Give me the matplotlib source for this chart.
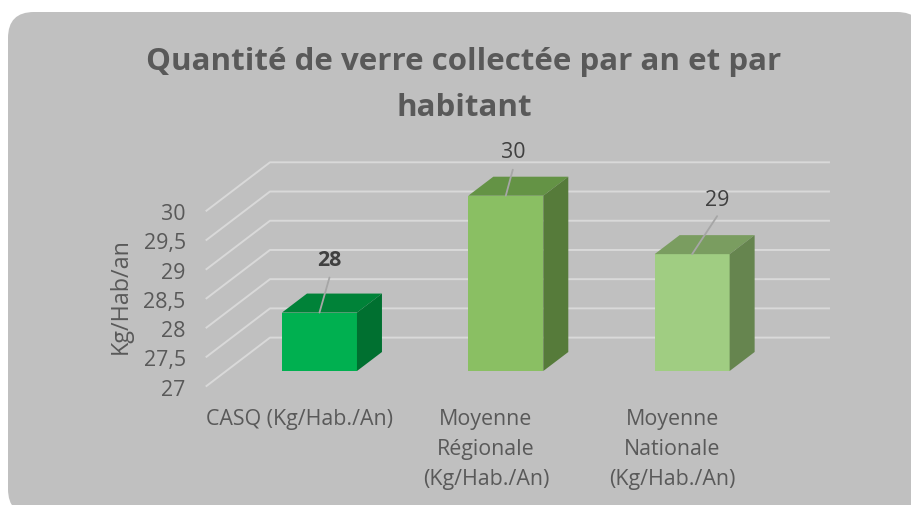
import matplotlib
matplotlib.use('Agg')
import matplotlib.pyplot as plt
from matplotlib.patches import FancyBboxPatch, Polygon
from matplotlib.transforms import ScaledTranslation

plt.rcParams['font.family'] = ['Open Sans', 'DejaVu Sans']

# data
categories = ['CASQ (Kg/Hab./An)', 'Moyenne\nRégionale\n(Kg/Hab./An)', 'Moyenne\nNationale\n(Kg/Hab./An)']
values = [28, 30, 29]
y_ticks = [27, 27.5, 28, 28.5, 29, 29.5, 30]
y_tick_labels = ['27', '27,5', '28', '28,5', '29', '29,5', '30']
title = 'Quantité de verre collectée par an et par\nhabitant'

front_cols = ['#00b050', '#8abf63', '#a0cd82']
top_cols = ['#008238', '#649345', '#7a9d60']
side_cols = ['#007030', '#567b3a', '#66854f']

# pixel-based look of the fake 3d box
W, H = 912, 505
ax_l, ax_r, ax_b, ax_t = 206.5, 765.5, 386.0, 210.7
px_x = (ax_r - ax_l) / 3.0       # pixels per category
px_y = (ax_b - ax_t) / 3.0       # pixels per unit
wall_dx, wall_dy = 63.5 / px_x, 48.4 / px_y
shift_x, shift_y = 19.8 / px_x, 15.0 / px_y
depth_x, depth_y = 25.0 / px_x, 19.0 / px_y
bar_w = 75.0 / px_x

fig = plt.figure(figsize=(W / 100, H / 100), dpi=100, facecolor='white')

# rounded grey card
bg = fig.add_axes([0, 0, 1, 1])
bg.set_xlim(0, W)
bg.set_ylim(H, 0)
bg.axis('off')
bg.add_patch(FancyBboxPatch((8, 12), 915, 503, boxstyle='round,pad=0,rounding_size=26',
                            fc='#c0c0c0', ec='none'))

ax = fig.add_axes([ax_l / W, (H - ax_b) / H, (ax_r - ax_l) / W, (ax_b - ax_t) / H])
ax.patch.set_alpha(0)
ax.set_xlim(-0.5, 2.5)
ax.set_ylim(27, 30)
for s in ax.spines.values():
    s.set_visible(False)

# gridlines on floor/wall
for t in y_ticks:
    ax.plot([-0.5, -0.5 + wall_dx, 2.5 + wall_dx], [t, t + wall_dy, t + wall_dy],
            color='#d9d9d9', lw=1.4, clip_on=False, zorder=1)

# bars
for i in range(3):
    x0 = i - bar_w / 2 + shift_x
    x1 = i + bar_w / 2 + shift_x
    y0 = 27 + shift_y
    y1 = values[i] + shift_y
    ax.bar(i + shift_x, values[i] - 27, bottom=y0, width=bar_w, color=front_cols[i],
           clip_on=False, zorder=3)
    ax.add_patch(Polygon([(x0, y1), (x1, y1), (x1 + depth_x, y1 + depth_y), (x0 + depth_x, y1 + depth_y)],
                         fc=top_cols[i], ec='none', clip_on=False, zorder=3))
    ax.add_patch(Polygon([(x1, y0), (x1 + depth_x, y0 + depth_y), (x1 + depth_x, y1 + depth_y), (x1, y1)],
                         fc=side_cols[i], ec='none', clip_on=False, zorder=3))

# data labels with leader lines
line_off = [(10, 35), (7, 26), (25, 38)]
text_off = [(10, 52), (7, 43), (25, 54)]
weights = ['bold', 'normal', 'normal']
for i in range(3):
    xy = (i + shift_x, values[i] + shift_y)
    ax.annotate('', xy=xy, xytext=line_off[i], textcoords='offset pixels', zorder=4,
                annotation_clip=False,
                arrowprops=dict(arrowstyle='-', color='#a6a6a6', lw=1.3, shrinkA=0, shrinkB=0))
    ax.annotate(str(values[i]), xy=xy, xytext=text_off[i], textcoords='offset pixels',
                ha='center', va='center', fontsize=15.4, color='#404040',
                fontweight=weights[i], zorder=5, annotation_clip=False)

ax.set_yticks(y_ticks)
ax.set_yticklabels(y_tick_labels, fontsize=15.4, color='#595959')
ax.set_xticks([0, 1, 2])
ax.set_xticklabels(categories, fontsize=15.4, color='#595959', linespacing=1.58)
ax.tick_params(axis='y', length=0, pad=15)
ax.tick_params(axis='x', length=0, pad=16.3)
for lab in ax.get_yticklabels():
    lab.set_transform(lab.get_transform() + ScaledTranslation(0, -1.5 / 100, fig.dpi_scale_trans))

bg.text(121, 296, 'Kg/Hab/an', rotation=90, ha='center', va='center', fontsize=16.8, color='#595959')
bg.text(464, 85, title, ha='center', va='center', fontsize=22.5, fontweight='bold',
        color='#595959', linespacing=1.67)

fig.savefig('out.png', dpi=100)
